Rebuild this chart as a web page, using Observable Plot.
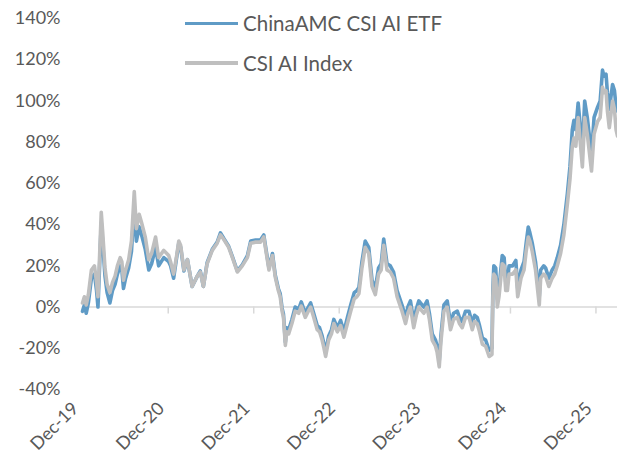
<!DOCTYPE html>
<html><head><meta charset="utf-8">
<script src="https://cdn.jsdelivr.net/npm/d3@7"></script>
<script src="https://cdn.jsdelivr.net/npm/@observablehq/plot@0.6"></script>
<style>
body{margin:0;background:#fff;font-family:Lato,"Open Sans",sans-serif;}
#wrap{position:relative;width:617px;height:468px;}
#legend{position:absolute;left:185px;top:3px;font-size:20.5px;color:#595959;}
.item{display:flex;align-items:center;height:40px;}
.sw{width:53px;height:3px;margin-right:5px;}
</style></head><body><div id="wrap"><div id="legend"></div></div>
<script>
const seriesNames = ["ChinaAMC CSI AI ETF", "CSI AI Index"];
const seriesColors = ["#5f9bc6", "#bfbfbf"];
const yTicks = [-40, -20, 0, 20, 40, 60, 80, 100, 120, 140];
const xTickDates = ["2019-12-01","2020-12-01","2021-12-01","2022-12-01","2023-12-01","2024-12-01","2025-12-01"];
const dates = [
"2019-12-01","2019-12-09","2019-12-17","2019-12-26","2020-01-08","2020-01-21","2020-01-30","2020-02-05","2020-02-12","2020-02-19",
"2020-02-26","2020-03-06","2020-03-15","2020-03-27","2020-04-07","2020-04-18","2020-04-28","2020-05-10","2020-05-17","2020-05-24",
"2020-06-02","2020-06-15","2020-06-27","2020-07-09","2020-07-18","2020-07-30","2020-08-09","2020-08-25","2020-09-09","2020-09-21",
"2020-10-08","2020-10-21","2020-11-12","2020-12-03","2020-12-11","2020-12-24","2021-01-06","2021-01-15","2021-01-23","2021-02-06",
"2021-02-21","2021-03-13","2021-04-04","2021-04-17","2021-04-30","2021-05-16","2021-06-07","2021-06-28","2021-07-12","2021-07-25",
"2021-08-16","2021-09-01","2021-09-22","2021-10-13","2021-11-04","2021-11-18","2021-12-09","2021-12-30","2022-01-13","2022-01-21",
"2022-02-04","2022-02-19","2022-03-03","2022-03-16","2022-03-24","2022-04-01","2022-04-07","2022-04-15","2022-04-21","2022-04-29",
"2022-05-13","2022-05-27","2022-06-11","2022-06-22","2022-07-09","2022-07-22","2022-08-01","2022-08-14","2022-08-29","2022-09-08",
"2022-09-19","2022-09-27","2022-10-04","2022-10-17","2022-10-29","2022-11-08","2022-11-23","2022-12-07","2022-12-21","2023-01-05",
"2023-01-19","2023-02-03","2023-02-14","2023-02-23","2023-03-08","2023-03-22","2023-04-06","2023-04-20","2023-05-04","2023-05-18",
"2023-05-29","2023-06-09","2023-06-23","2023-07-07","2023-07-21","2023-08-05","2023-08-26","2023-09-10","2023-09-20","2023-10-01",
"2023-10-15","2023-10-26","2023-11-06","2023-11-27","2023-12-11","2023-12-21","2024-01-02","2024-01-16","2024-01-23","2024-02-01",
"2024-02-08","2024-02-21","2024-03-06","2024-03-20","2024-04-02","2024-04-18","2024-04-27","2024-05-09","2024-05-23","2024-06-07",
"2024-06-21","2024-07-01","2024-07-12","2024-07-22","2024-08-03","2024-08-17","2024-09-01","2024-09-13","2024-09-17","2024-09-21",
"2024-09-29","2024-10-06","2024-10-13","2024-10-27","2024-11-04","2024-11-11","2024-11-18","2024-11-25","2024-12-10","2024-12-24",
"2025-01-01","2025-01-15","2025-01-28","2025-02-06","2025-02-15","2025-02-22","2025-03-04","2025-03-18","2025-04-03","2025-04-09",
"2025-04-22","2025-04-30","2025-05-14","2025-05-28","2025-06-08","2025-06-19","2025-07-03","2025-07-17","2025-08-01","2025-08-12",
"2025-08-22","2025-08-29","2025-09-06","2025-09-16","2025-09-25","2025-10-04","2025-10-14","2025-10-25","2025-11-03","2025-11-12",
"2025-11-23","2025-12-08","2025-12-19","2025-12-29","2026-01-04","2026-01-13","2026-01-19","2026-01-27","2026-02-10","2026-02-18",
"2026-02-25","2026-03-03"];
const indexValues = [
2,5,1,6,18,20,12,5,25,46,
35,19,11,7,12,15,20,24,22,13,
18,23,32,56,38,45,41,34,23,26,
34,24,27.5,25,22,16,25,32,30,18,
23,10,15,17,10,21,27.5,31,35,33,
29,24,17,20,24,31,31.5,31.5,34,28,
18,25,14.5,8,5,-2,-5,-18.6,-12,-13,
-8,-2,-3,0.5,-5,-2,0,-5,-11,-12,
-16,-20,-24,-16,-13,-8,-12,-9,-14.6,-8,
-2,4,5,6.5,19,29,26,10,6,16,
18,30,18,17,14,5,-2,-8,-3,0,
-10,-4,0,-3,0,-6,-16,-19,-22,-29,
-17,-2,0,-11,-6,-5,-8,-10,-5,-5,
-11,-7,-8,-12,-18,-19,-24,-23,5,16,
14.5,0,5,21,20,8,8,16,16,18,
5,14,18,27,34,32,27,18,1,14,
16,15,10,14,16,20,26,35,50,62,
78,82,78,92,80,68,92,84,75,66,
84,90,92,106.7,104,105,95,87,100,96,
86,83];
const etfValues = [
-2,1,-3,2,14,16,8,0,20,41,
30,15,7,2,8,11,16,20,18,9,
14,19,27,49,32,39,35,28,18,21,
29,20,24,22,20,14,24,31,29,17.5,
23,10,15,17.5,10,21.5,28,31.5,36,33.5,
29.5,24.5,17.5,20.5,25,32,32.5,32.5,35,29,
19,26,15.5,9,6.5,-0.5,-3.5,-17,-10,-11,
-6,0,-1,2.5,-3,0,2,-3,-9,-10,
-14,-18,-22,-14,-11,-6,-10,-6.5,-12,-5,
1,7,8,9.5,22,32,29,13,9,19,
21,33,21,20,17,8,1,-5,0,3,
-7,-1,3,0,3,-3,-13,-16,-19,-26,
-14,1,3,-8,-3,-2,-5,-7,-2,-2,
-8,-4,-5,-9,-15,-16,-21,-20,9,20,
19,4,9,25,24,12,12,20,20,22.6,
9,18,22,31,38.8,36,31,22,5,18,
20,19,14,18,20,24,30,40,55,68,
86,90.6,86,99,88,76,100,92,83,74,
92,97,100,115,112,113,104,96,108,105,
97,95];

const rows = dates.map((d, i) => ({date: new Date(d), etf: etfValues[i], index: indexValues[i]}));
const xTicks = xTickDates.map(d => new Date(d));
const fmt = d3.utcFormat("%b-%y");

const chart = Plot.plot({
  width: 617, height: 468,
  marginLeft: 82, marginRight: 0, marginTop: 18, marginBottom: 79,
  style: {fontFamily: "Lato, 'Open Sans', sans-serif", fontSize: "18px", color: "#595959", background: "white", overflow: "visible"},
  x: {type: "utc", domain: [new Date("2019-12-01"), new Date("2026-03-03")]},
  y: {domain: [-40, 140]},
  marks: [
    Plot.axisY({ticks: yTicks, tickSize: 0, tickPadding: 22, tickFormat: d => d + "%", label: null}),
    Plot.axisX({ticks: xTicks, tickSize: 0, tickPadding: 16, tickRotate: -45, tickFormat: fmt, label: null, dx: -7}),
    Plot.ruleY([0], {stroke: "#d9d9d9", strokeWidth: 1.5}),
    Plot.ruleX(xTicks, {x: d => d, y1: 0, y2: 0, insetBottom: -7, stroke: "#d9d9d9", strokeWidth: 1.5}),
    Plot.line(rows, {x: "date", y: "etf", stroke: seriesColors[0], strokeWidth: 3.6, strokeLinejoin: "round"}),
    Plot.line(rows, {x: "date", y: "index", stroke: seriesColors[1], strokeWidth: 3.6, strokeLinejoin: "round"})
  ]
});
const wrap = document.getElementById("wrap");
wrap.insertBefore(chart, wrap.firstChild);
const legend = document.getElementById("legend");
seriesNames.forEach((n, i) => {
  const it = document.createElement("div"); it.className = "item";
  const sw = document.createElement("div"); sw.className = "sw"; sw.style.background = seriesColors[i];
  if (i === 1) sw.style.height = "4px";
  const t = document.createElement("span"); t.textContent = n;
  it.appendChild(sw); it.appendChild(t); legend.appendChild(it);
});
</script></body></html>
